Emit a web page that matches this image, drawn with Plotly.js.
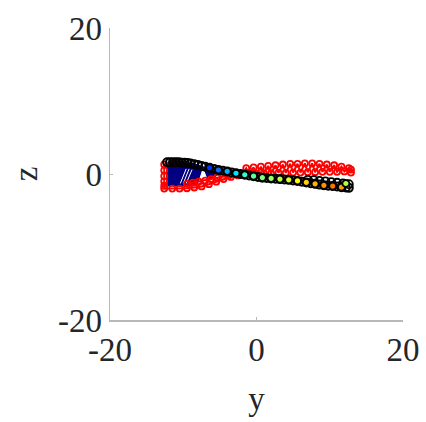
<!DOCTYPE html>
<html><head><meta charset="utf-8">
<script src="https://cdn.plot.ly/plotly-3.0.1.min.js"></script>
<style>html,body{margin:0;padding:0;background:#fff}#plot{width:426px;height:422px}</style>
</head><body><div id="plot"></div>
<script>
// Tick values / labels
const tickVals = [-20, 0, 20];
const tickText = ['-20', '0', '20'];

// Blue filled region (left end)
const blueY = [-12.3, -12.2, -10.5, -8.5, -7.0, -5.8, -5.4, -6.5, -8.5, -10.5];
const blueZ = [-1.7, 1.5, 1.6, 1.4, 0.9, 0.3, -0.2, -0.8, -1.4, -1.7];
// White gap inside the blue region
const gapY = [-7.9, -7.3, -6.6];
const gapZ = [-1.2, 0.7, -1.1];

// Upper black circle chain
const blackY = [-12.2,-11.8,-11.4,-11.0,-10.6,-10.2,-9.8,-9.4,-9.0,-8.5,-8.0,-7.5,-7.0,-6.4,-5.8,-5.2,-4.6,-4.0,-3.4,-2.8,-2.2,-1.6,-1.0,-0.4,0.2,0.8,1.4,2.0,2.6,3.2,3.8,4.4,5.0,5.6,6.2,6.8,7.4,8.0,8.6,9.2,9.8,10.4,11.0,11.6,12.2,12.6];
const blackZ = [1.6,1.6,1.6,1.6,1.6,1.55,1.55,1.5,1.45,1.35,1.25,1.1,1.0,0.85,0.7,0.55,0.45,0.35,0.2,0.1,0.0,-0.1,-0.2,-0.3,-0.4,-0.5,-0.55,-0.6,-0.65,-0.7,-0.75,-0.8,-0.9,-0.95,-1.05,-1.15,-1.25,-1.35,-1.45,-1.55,-1.6,-1.65,-1.7,-1.8,-1.85,-1.9];
// Second black chain (right side, slightly above)
const black2Y = [7.0,7.8,8.6,9.4,10.2,11.0,11.8,12.6];
const black2Z = [-0.8,-0.85,-0.95,-1.0,-1.1,-1.2,-1.3,-1.4];

// Red circle chain (outline + zigzag)
const redY = [-11.0,-12.6,-12.6,-12.6,-12.6,-12.6,-12.6,-11.5,-10.5,-9.5,-8.5,-7.5,-6.5,-5.5,-4.5,-3.5,-2.5,-2.0,-1.4,-1.0,-0.4,0.0,0.6,1.0,1.6,2.0,2.6,3.0,3.6,4.0,4.6,5.0,5.6,6.0,6.6,7.0,7.6,8.0,8.6,9.0,9.6,10.0,10.6,11.0,11.6,12.0,12.6,12.9,12.9];
const redZ = [1.7,1.3,0.5,-0.3,-1.0,-1.6,-2.0,-2.0,-2.0,-1.95,-1.85,-1.7,-1.4,-1.05,-0.7,-0.4,-0.2,-0.1,0.8,0.0,0.9,0.05,1.0,0.1,1.1,0.1,1.2,0.15,1.3,0.15,1.4,0.2,1.4,0.2,1.45,0.25,1.45,0.25,1.4,0.3,1.3,0.3,1.2,0.3,1.0,0.35,0.8,0.6,0.2];
// Red diagonal inside the left region
const red2Y = [-9.5,-8.7,-7.9,-7.0,-6.2,-5.4,-4.6,-3.8];
const red2Z = [-1.35,-1.2,-1.05,-0.9,-0.7,-0.5,-0.35,-0.2];

// Colour-filled points (jet colours, black outlines)
const fillY = [-6.4,-5.2,-4.0,-2.8,-1.6,-0.4,0.8,2.0,3.2,4.4,5.6,6.8,8.0,9.2,10.4,11.6,12.2];
const fillZ = [0.85,0.55,0.35,0.1,-0.1,-0.3,-0.5,-0.6,-0.7,-0.8,-0.95,-1.15,-1.35,-1.55,-1.65,-1.8,-1.3];
const fillC = ['#0030ff','#0070ff','#00b0ff','#00e5ff','#30ffcf','#60ff9f','#80ff80','#a0ff60','#c0ff40','#e0ff20','#ffff00','#ffd000','#ffb000','#ff9000','#ff7000','#ff9900','#b0ff40'];

// White streaks in blue region
const streakY = [-10.4,-9.6,null,-10.0,-9.2,null,-9.6,-8.8];
const streakZ = [-1.3,0.7,null,-1.3,0.7,null,-1.3,0.6];

const traces = [
  {x: blueY, y: blueZ, mode:'lines', fill:'toself', fillcolor:'#000080', line:{color:'#000080', width:1}, hoverinfo:'skip'},
  {x: gapY, y: gapZ, mode:'lines', fill:'toself', fillcolor:'#ffffff', line:{color:'#ffffff', width:1}, hoverinfo:'skip'},
  {x: streakY, y: streakZ, mode:'lines', line:{color:'#ffffff', width:1}, hoverinfo:'skip'},
  {x: redY, y: redZ, mode:'lines+markers', line:{color:'#ff0000', width:2}, marker:{symbol:'circle-open', size:6, color:'#ff0000', line:{width:1.8}}},
  {x: red2Y, y: red2Z, mode:'lines+markers', line:{color:'#ff0000', width:2}, marker:{symbol:'circle-open', size:6, color:'#ff0000', line:{width:1.8}}},
  {x: black2Y, y: black2Z, mode:'markers', marker:{symbol:'circle-open', size:8, color:'#000000', line:{width:1.8}}},
  {x: blackY, y: blackZ, mode:'markers', marker:{symbol:'circle-open', size:8, color:'#000000', line:{width:2}}},
  {x: fillY, y: fillZ, mode:'markers', marker:{symbol:'circle', size:7, color:fillC, line:{color:'#000000', width:1.8}}}
];

const fontSerif = 'Liberation Serif, Times New Roman, serif';
const axisCommon = {
  range:[-20,20], tickvals: tickVals, ticktext: tickText,
  showgrid:false, zeroline:false, showline:true, linecolor:'#b8b8b8', linewidth:1.5,
  ticks:'inside', ticklen:3, tickcolor:'#b8b8b8',
  tickfont:{family:fontSerif, size:33, color:'#262626'}
};

const layout = {
  width:426, height:422, showlegend:false,
  paper_bgcolor:'#ffffff', plot_bgcolor:'#ffffff',
  margin:{l:110, r:23, t:28, b:102},
  xaxis: Object.assign({}, axisCommon, {title:{text:'y', standoff:20, font:{family:fontSerif, size:33, color:'#262626'}}}),
  yaxis: Object.assign({}, axisCommon, {title:{text:'z', standoff:10, font:{family:fontSerif, size:33, color:'#262626'}}})
};

Plotly.newPlot('plot', traces, layout, {displayModeBar:false, staticPlot:true});
</script>
</body></html>
